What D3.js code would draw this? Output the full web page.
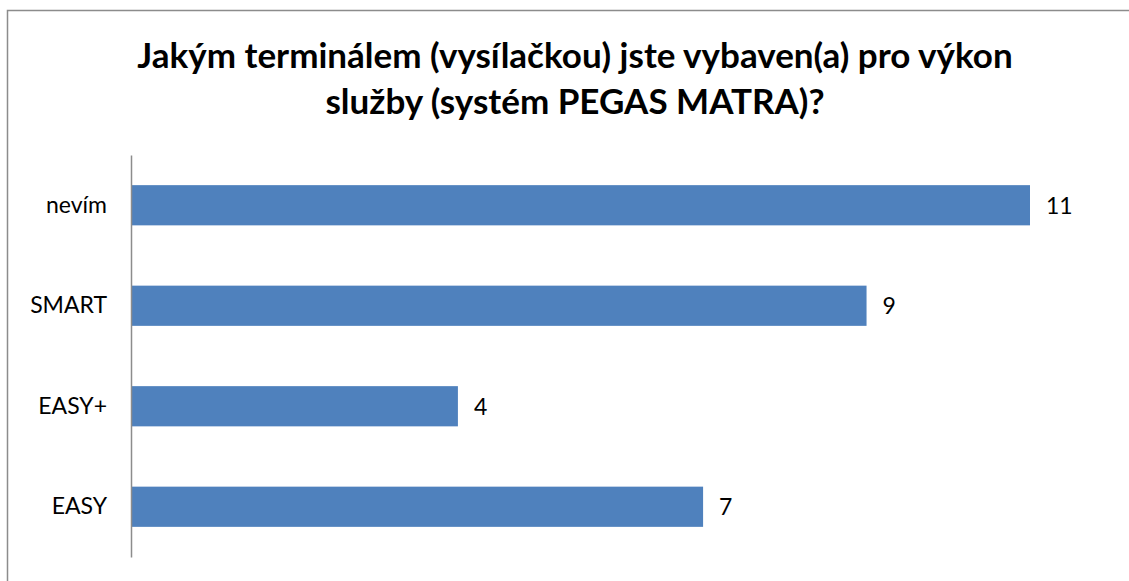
<!DOCTYPE html>
<html>
<head>
<meta charset="utf-8">
<script src="https://cdn.jsdelivr.net/npm/d3@7"></script>
<style>
  body { margin: 0; background: #fff; }
  svg { display: block; font-family: Lato, "Open Sans", sans-serif; }
</style>
</head>
<body>
<div id="chart"></div>
<script>
const categories = ["nevím", "SMART", "EASY+", "EASY"];
const values = [11, 9, 4, 7];
const titleLines = ["Jakým terminálem (vysílačkou) jste vybaven(a) pro výkon", "služby (systém PEGAS MATRA)?"];

const W = 1129, H = 581;
const margin = {top: 155, right: 99, bottom: 24, left: 131},
    width = W - margin.left - margin.right,
    height = H - margin.top - margin.bottom;

const svg = d3.select("#chart")
    .append("svg")
    .attr("width", W)
    .attr("height", H);

// chart frame (cut off at right and bottom like the original)
svg.append("rect")
    .attr("x", 7.5)
    .attr("y", 10.5)
    .attr("width", W + 20)
    .attr("height", H + 20)
    .attr("fill", "none")
    .attr("stroke", "#8c8c8c")
    .attr("stroke-width", 1.5);

// title
svg.append("g")
    .selectAll("text")
    .data(titleLines)
    .join("text")
    .attr("x", 575)
    .attr("y", (d, i) => 68 + i * 46)
    .attr("text-anchor", "middle")
    .attr("font-size", 35)
    .attr("font-weight", "bold")
    .attr("fill", "#000")
    .text(d => d);

const g = svg.append("g")
    .attr("transform", `translate(${margin.left},${margin.top})`);

const x = d3.scaleLinear()
    .domain([0, 11])
    .range([0, 899]);

const y = d3.scaleBand()
    .domain(categories)
    .range([0, height])
    .paddingInner(0.6)
    .paddingOuter(0.3);

// bars
g.selectAll(".bar")
    .data(categories)
    .join("rect")
    .attr("class", "bar")
    .attr("x", 0)
    .attr("y", d => y(d))
    .attr("width", (d, i) => x(values[i]))
    .attr("height", y.bandwidth())
    .attr("fill", "#4f81bd");

// value labels
g.selectAll(".val")
    .data(categories)
    .join("text")
    .attr("class", "val")
    .attr("x", (d, i) => x(values[i]) + 16)
    .attr("y", d => y(d) + y.bandwidth() / 2)
    .attr("dy", "0.36em")
    .attr("font-size", 23)
    .attr("fill", "#000")
    .text((d, i) => values[i]);

// category axis
const yAxis = g.append("g")
    .call(d3.axisLeft(y).tickSize(0).tickPadding(24));

yAxis.select(".domain")
    .attr("stroke", "#8c8c8c")
    .attr("stroke-width", 1.5);

yAxis.selectAll("text")
    .attr("font-family", "Lato, 'Open Sans', sans-serif")
    .attr("font-size", 23)
    .attr("fill", "#000");
</script>
</body>
</html>
